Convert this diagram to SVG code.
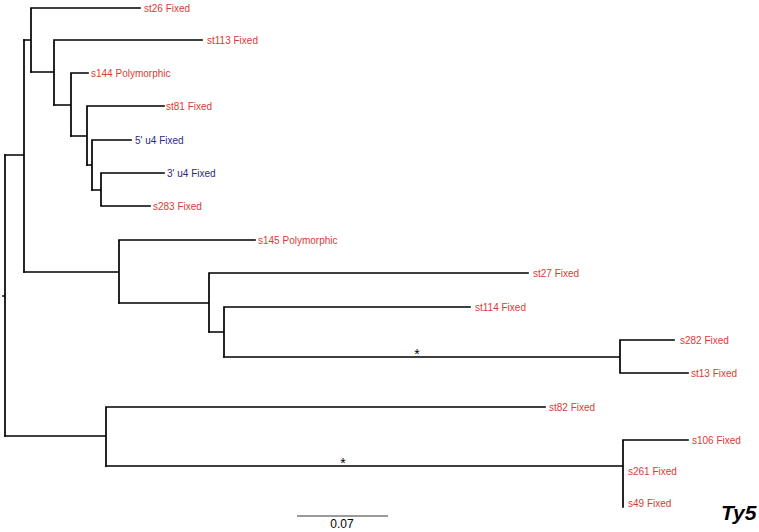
<svg xmlns="http://www.w3.org/2000/svg" width="759" height="532" viewBox="0 0 759 532">
<style>
.br{fill:none;stroke:#000;stroke-width:1.7;stroke-linecap:square}
.lab{font-family:"Liberation Sans",Arial,sans-serif;font-size:10px}
.r{fill:#d93a35}
.b{fill:#2b2a82}
.ast{font-family:"Liberation Sans",Arial,sans-serif;font-size:14px;fill:#000}
</style>
<rect width="759" height="532" fill="#fff"/>
<g id="connectors">
<path class="br" d="M3,296H5 M5,155V436"/>
<path class="br" d="M5,155H24 M24,40V272"/>
<path class="br" d="M24,40H31 M31,8V72 M31,8H140"/>
<path class="br" d="M31,72H54 M54,40V105 M54,40H202"/>
<path class="br" d="M54,105H71 M71,73V136 M71,73H88"/>
<path class="br" d="M71,136H87 M87,106V165 M87,106H164"/>
<path class="br" d="M87,165H92 M92,140V190 M92,140H131"/>
<path class="br" d="M92,190H101 M101,173V206 M101,173H164 M101,206H150"/>
<path class="br" d="M24,272H119 M119,240V303 M119,240H255"/>
<path class="br" d="M119,303H209 M209,273V332 M209,273H528"/>
<path class="br" d="M209,332H224 M224,307V357 M224,307H470"/>
<path class="br" d="M224,357H620 M620,340V373 M620,340H674 M620,373H688"/>
<path class="br" d="M5,436H106 M106,407V466 M106,407H545"/>
<path class="br" d="M106,466H623 M623,440V507 M623,440H688"/>
<path d="M297,516H388" stroke="#777" stroke-width="1.5" fill="none"/>
</g>
<g id="n-st26"><text class="lab r" x="144" y="11.5">st26 Fixed</text></g>
<g id="n-st113"><text class="lab r" x="207" y="43.5">st113 Fixed</text></g>
<g id="n-s144"><text class="lab r" x="91" y="76.5">s144 Polymorphic</text></g>
<g id="n-st81"><text class="lab r" x="166" y="109.5">st81 Fixed</text></g>
<g id="n-5u4"><text class="lab b" x="135" y="143.5">5' u4 Fixed</text></g>
<g id="n-3u4"><text class="lab b" x="167" y="176.5">3' u4 Fixed</text></g>
<g id="n-s283"><text class="lab r" x="153" y="209.5">s283 Fixed</text></g>
<g id="n-s145"><text class="lab r" x="258" y="243.5">s145 Polymorphic</text></g>
<g id="n-st27"><text class="lab r" x="533" y="276.5">st27 Fixed</text></g>
<g id="n-st114"><text class="lab r" x="475" y="310.5">st114 Fixed</text></g>
<g id="n-s282"><text class="lab r" x="680" y="343.5">s282 Fixed</text></g>
<g id="n-st13"><text class="lab r" x="691" y="376.5">st13 Fixed</text></g>
<g id="n-st82"><text class="lab r" x="549" y="410.5">st82 Fixed</text></g>
<g id="n-s106"><text class="lab r" x="692" y="443.5">s106 Fixed</text></g>
<g id="n-s261"><text class="lab r" x="628" y="474.5">s261 Fixed</text></g>
<g id="n-s49"><text class="lab r" x="628" y="506.5">s49 Fixed</text></g>
<g id="marks">
<text class="ast" x="417" y="359" text-anchor="middle">*</text>
<text class="ast" x="343" y="468" text-anchor="middle">*</text>
<text x="342" y="528" text-anchor="middle" font-family="Liberation Sans, Arial, sans-serif" font-size="12" fill="#000">0.07</text>
<text x="721" y="520" font-family="Liberation Sans, Arial, sans-serif" font-size="21" font-weight="bold" font-style="italic" fill="#000">Ty5</text>
</g>
</svg>
